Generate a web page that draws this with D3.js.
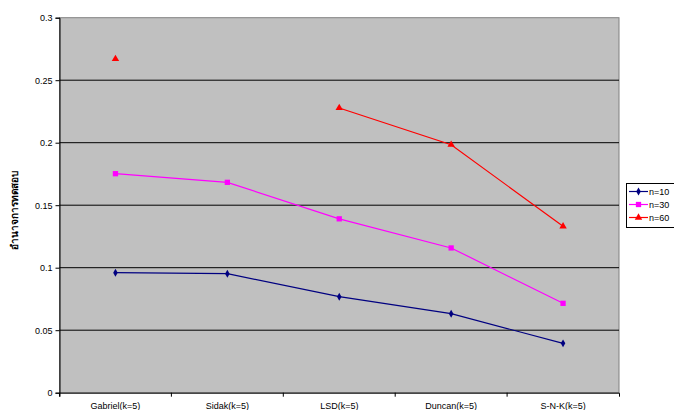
<!DOCTYPE html>
<html><head><meta charset="utf-8">
<script src="https://cdn.jsdelivr.net/npm/d3@7"></script>
<style>body{margin:0;background:#fff}svg{display:block;font-family:"Liberation Sans",Arial,sans-serif}</style>
</head><body><svg id="c" width="674" height="410"></svg>
<script>
const categories = ["Gabriel(k=5)", "Sidak(k=5)", "LSD(k=5)", "Duncan(k=5)", "S-N-K(k=5)"];
const seriesNames = ["n=10", "n=30", "n=60"];
const n10 = [0.096, 0.0952, 0.0768, 0.0632, 0.0395];
const n30 = [0.1752, 0.1683, 0.1391, 0.1158, 0.0715];
const n60 = [0.267, null, 0.2278, 0.1984, 0.1331];
const yTicks = [0, 0.05, 0.1, 0.15, 0.2, 0.25, 0.3];
const yTitle = "อำนาจการทดสอบ";

const svg = d3.select("#c");
const L = 59.5, R = 619, T = 17.7, B = 392.7;
const x = d3.scaleBand().domain(categories).range([L, R]);
const y = d3.scaleLinear().domain([0, 0.3]).range([B, T]);

svg.append("rect").attr("x", L).attr("y", T).attr("width", R - L).attr("height", B - T)
  .attr("fill", "#c0c0c0").attr("stroke", "#808080").attr("stroke-width", 1);

svg.append("g").selectAll("line").data(yTicks.filter(d => d > 0 && d < 0.3)).join("line")
  .attr("x1", L).attr("x2", R).attr("y1", d => y(d)).attr("y2", d => y(d))
  .attr("stroke", "#000").attr("stroke-width", 1);

const ya = svg.append("g").attr("transform", `translate(${L},0)`)
  .call(d3.axisLeft(y).tickValues(yTicks).tickSize(4).tickFormat(d => String(d)));
ya.selectAll("text").attr("font-size", 9).attr("fill", "#000").attr("font-family", "Liberation Sans, Arial");
ya.selectAll("line,path").attr("stroke", "#000");

const xa = svg.append("g").attr("transform", `translate(0,${B})`)
  .call(d3.axisBottom(x).tickSizeInner(4).tickSizeOuter(4).tickPadding(6));
xa.selectAll("text").attr("font-size", 9).attr("fill", "#000").attr("font-family", "Liberation Sans, Arial");
xa.selectAll("line,path").attr("stroke", "#000");
xa.selectAll(".tick line").attr("x1", -x.bandwidth()/2).attr("x2", -x.bandwidth()/2);

svg.append("text").attr("transform", `translate(18,210) rotate(-90)`)
  .attr("text-anchor", "middle").attr("font-size", 10).attr("font-weight", "bold")
  .attr("font-family", "Noto Sans, sans-serif").text(yTitle);

const cx = c => x(c) + x.bandwidth() / 2;
const series = [
  {name: seriesNames[0], vals: n10, color: "#000080", shape: d3.symbolDiamond, size: 18},
  {name: seriesNames[1], vals: n30, color: "#ff00ff", shape: d3.symbolSquare, size: 28},
  {name: seriesNames[2], vals: n60, color: "#ff0000", shape: d3.symbolTriangle, size: 24}
];
const line = d3.line().defined(d => d.v != null).x(d => cx(d.c)).y(d => y(d.v));
series.forEach(s => {
  const pts = categories.map((c, i) => ({c, v: s.vals[i]}));
  svg.append("path").datum(pts).attr("d", line).attr("fill", "none")
    .attr("stroke", s.color).attr("stroke-width", 1.2);
  svg.append("g").selectAll("path").data(pts.filter(d => d.v != null)).join("path")
    .attr("transform", d => `translate(${cx(d.c)},${y(d.v)})`)
    .attr("d", d3.symbol().type(s.shape).size(s.size)).attr("fill", s.color);
});

const lg = svg.append("g");
lg.append("rect").attr("x", 626.5).attr("y", 183.5).attr("width", 50).attr("height", 44)
  .attr("fill", "#fff").attr("stroke", "#000");
series.forEach((s, i) => {
  const yy = 191.5 + i * 13;
  lg.append("line").attr("x1", 629).attr("x2", 648).attr("y1", yy).attr("y2", yy)
    .attr("stroke", s.color).attr("stroke-width", 1.2);
  lg.append("path").attr("transform", `translate(638.5,${yy})`)
    .attr("d", d3.symbol().type(s.shape).size(s.size)).attr("fill", s.color);
  lg.append("text").attr("x", 649).attr("y", yy + 3.3).attr("font-size", 9).text(s.name);
});
</script></body></html>
